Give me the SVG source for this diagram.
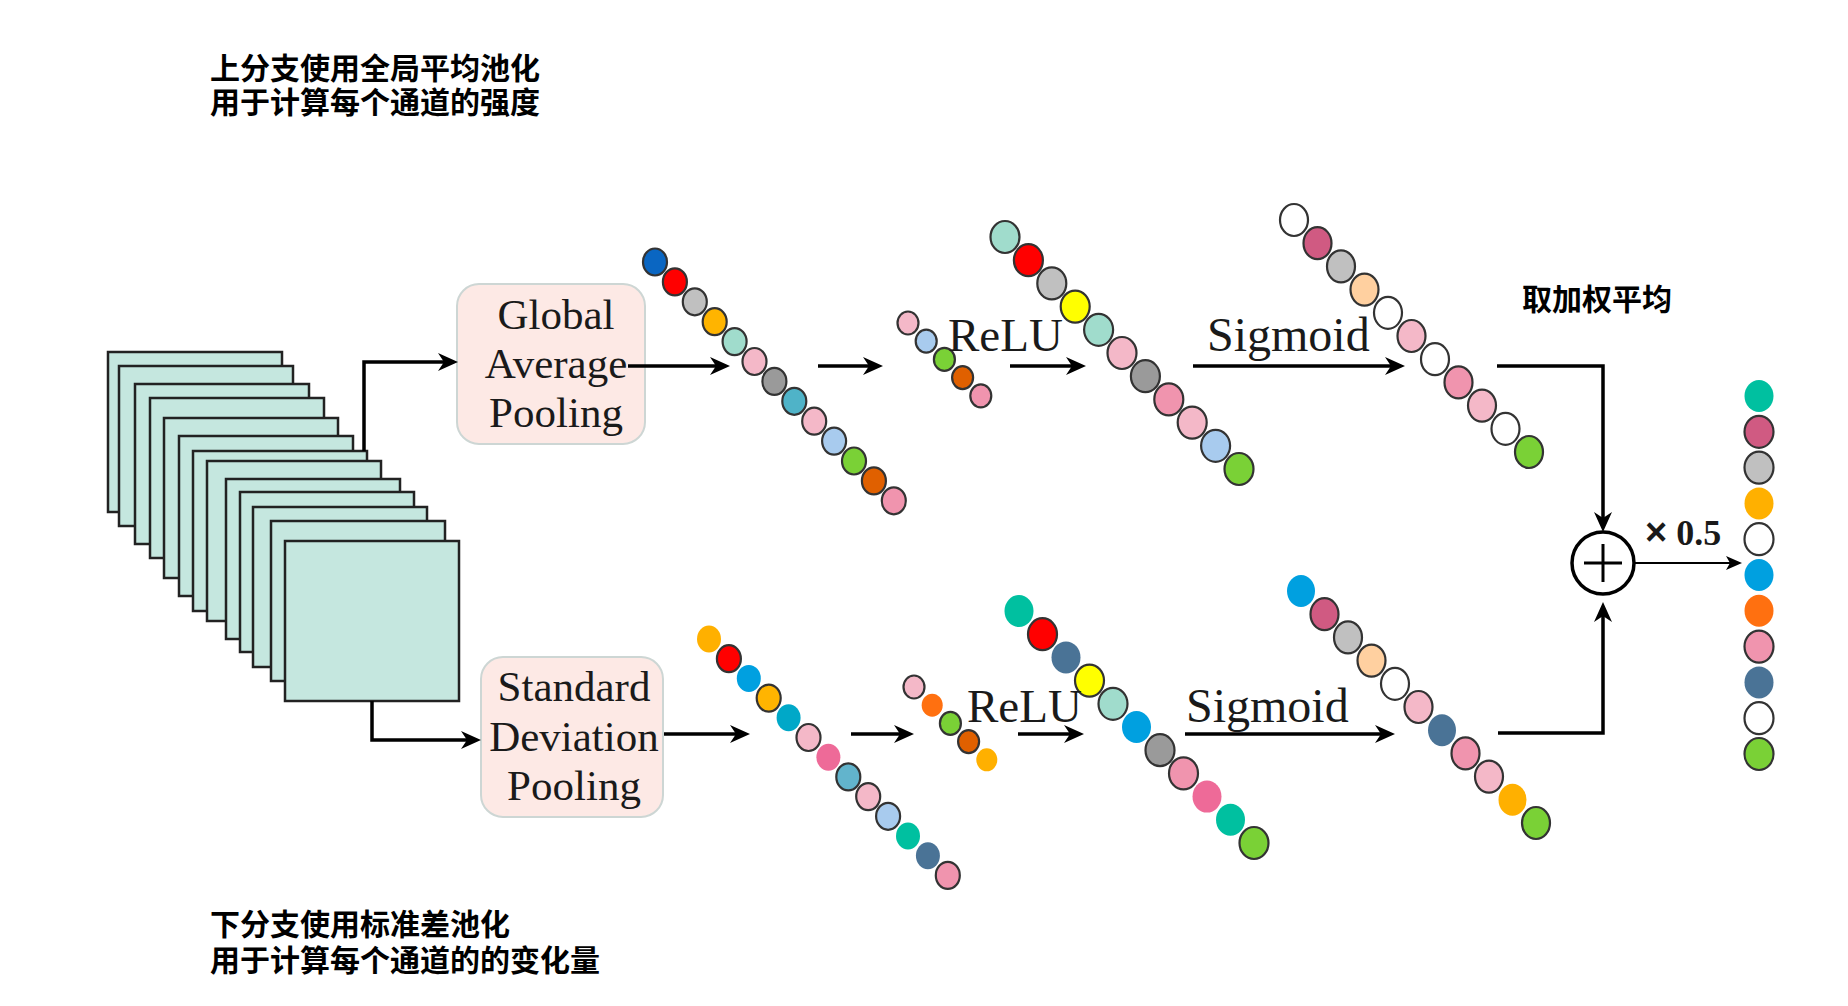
<svg xmlns="http://www.w3.org/2000/svg" width="1848" height="1006" viewBox="0 0 1848 1006">
<style>
.cs{stroke:#333;stroke-width:2.2}
.ns{stroke:none}
.ln{fill:none;stroke:#000;stroke-width:3.5}
.thin{fill:none;stroke:#000;stroke-width:1.8}
.stack rect{fill:#c5e7df;stroke:#222;stroke-width:2.5}
.box{fill:#fde9e5;stroke:#cdd6d4;stroke-width:2}
.lbl{font-family:"Liberation Serif","Times New Roman",serif;font-size:43px;fill:#1a1a1a;text-anchor:middle}
.op{font-family:"Liberation Serif","Times New Roman",serif;fill:#1a1a1a}
.cn{font-family:"Noto Sans CJK SC","Noto Sans",sans-serif;font-weight:700;font-size:30px;fill:#000}
</style>
<defs>
<marker id="ah" viewBox="0 0 20 20" markerWidth="20" markerHeight="20" markerUnits="userSpaceOnUse" refX="10" refY="10" orient="auto">
<path d="M0,1 L20,10 L0,19 L6,10 z" fill="#000"/>
</marker>
<marker id="ah2" viewBox="0 0 16 16" markerWidth="16" markerHeight="16" markerUnits="userSpaceOnUse" refX="8" refY="8" orient="auto">
<path d="M0,1 L16,8 L0,15 L4,8 z" fill="#000"/>
</marker>
</defs>
<rect width="1848" height="1006" fill="#fff"/>

<g id="text-top">
<text class="cn" x="210" y="79">上分支使用全局平均池化<tspan x="210" dy="34">用于计算每个通道的强度</tspan></text>
</g>
<g id="text-bottom">
<text class="cn" x="210" y="935">下分支使用标准差池化<tspan x="210" dy="36">用于计算每个通道的的变化量</tspan></text>
</g>
<g id="text-weighted">
<text class="cn" x="1522" y="310">取加权平均</text>
</g>

<g id="feature-maps" class="stack">
<rect x="108" y="352" width="174" height="160"/>
<rect x="119" y="366" width="174" height="160"/>
<rect x="135" y="384" width="174" height="160"/>
<rect x="150" y="398" width="174" height="160"/>
<rect x="164" y="418" width="174" height="160"/>
<rect x="179" y="436" width="174" height="160"/>
<rect x="193" y="451" width="174" height="160"/>
<rect x="207" y="461" width="174" height="160"/>
<rect x="226" y="479" width="174" height="160"/>
<rect x="240" y="492" width="174" height="160"/>
<rect x="253" y="507" width="174" height="160"/>
<rect x="271" y="521" width="174" height="160"/>
<rect x="285" y="541" width="174" height="160"/>
</g>

<g id="gap-node">
<rect class="box" x="457" y="284" width="188" height="160" rx="22"/>
<text class="lbl" x="556" y="329">Global</text>
<text class="lbl" x="556" y="378">Average</text>
<text class="lbl" x="556" y="427">Pooling</text>
</g>
<g id="sdp-node">
<rect class="box" x="481" y="657" width="182" height="160" rx="22"/>
<text class="lbl" x="574" y="701">Standard</text>
<text class="lbl" x="574" y="751">Deviation</text>
<text class="lbl" x="574" y="800">Pooling</text>
</g>

<g id="connectors">
<path class="ln" d="M364,451 V362 H448" marker-end="url(#ah)"/>
<path class="ln" d="M372,701 V740 H471" marker-end="url(#ah)"/>
<path class="ln" d="M628,366 H720" marker-end="url(#ah)"/>
<path class="ln" d="M818,366 H873" marker-end="url(#ah)"/>
<path class="ln" d="M1010,366 H1076" marker-end="url(#ah)"/>
<path class="ln" d="M1193,366 H1395" marker-end="url(#ah)"/>
<path class="ln" d="M664,734 H740" marker-end="url(#ah)"/>
<path class="ln" d="M851,734 H904" marker-end="url(#ah)"/>
<path class="ln" d="M1018,734 H1074" marker-end="url(#ah)"/>
<path class="ln" d="M1185,734 H1385" marker-end="url(#ah)"/>
<path class="ln" d="M1497,366 H1603 V522" marker-end="url(#ah)"/>
<path class="ln" d="M1498,733 H1603 V612" marker-end="url(#ah)"/>
<path class="thin" d="M1634,563 H1734" marker-end="url(#ah2)"/>
</g>

<g id="top-vec1">
<ellipse cx="655" cy="262" rx="12" ry="13.5" fill="#0a66c2" class="cs"/>
<ellipse cx="674.9" cy="281.9" rx="12" ry="13.5" fill="#ff0000" class="cs"/>
<ellipse cx="694.8" cy="301.8" rx="12" ry="13.5" fill="#c0c0c0" class="cs"/>
<ellipse cx="714.7" cy="321.7" rx="12" ry="13.5" fill="#ffb400" class="cs"/>
<ellipse cx="734.6" cy="341.6" rx="12" ry="13.5" fill="#a0dccc" class="cs"/>
<ellipse cx="754.5" cy="361.5" rx="12" ry="13.5" fill="#f4b8c8" class="cs"/>
<ellipse cx="774.4" cy="381.4" rx="12" ry="13.5" fill="#9a9a9a" class="cs"/>
<ellipse cx="794.3" cy="401.3" rx="12" ry="13.5" fill="#4fb3c8" class="cs"/>
<ellipse cx="814.2" cy="421.2" rx="12" ry="13.5" fill="#f4b8c8" class="cs"/>
<ellipse cx="834.1" cy="441.1" rx="12" ry="13.5" fill="#a8cbee" class="cs"/>
<ellipse cx="854" cy="461" rx="12" ry="13.5" fill="#7ad136" class="cs"/>
<ellipse cx="873.9" cy="480.9" rx="12" ry="13.5" fill="#e06000" class="cs"/>
<ellipse cx="893.8" cy="500.8" rx="12" ry="13.5" fill="#f094ae" class="cs"/>
</g>
<g id="top-vec-small">
<ellipse cx="908" cy="323" rx="10.5" ry="11.5" fill="#f4b8c8" class="cs"/>
<ellipse cx="926.2" cy="341.2" rx="10.5" ry="11.5" fill="#a8cbee" class="cs"/>
<ellipse cx="944.4" cy="359.4" rx="10.5" ry="11.5" fill="#7ad136" class="cs"/>
<ellipse cx="962.6" cy="377.6" rx="10.5" ry="11.5" fill="#e06000" class="cs"/>
<ellipse cx="980.8" cy="395.8" rx="10.5" ry="11.5" fill="#f094ae" class="cs"/>
</g>
<g id="top-vec2">
<ellipse cx="1005" cy="237" rx="14.5" ry="16" fill="#a0dccc" class="cs"/>
<ellipse cx="1028.4" cy="260.2" rx="14.5" ry="16" fill="#ff0000" class="cs"/>
<ellipse cx="1051.8" cy="283.4" rx="14.5" ry="16" fill="#c0c0c0" class="cs"/>
<ellipse cx="1075.2" cy="306.6" rx="14.5" ry="16" fill="#ffff00" class="cs"/>
<ellipse cx="1098.6" cy="329.8" rx="14.5" ry="16" fill="#a0dccc" class="cs"/>
<ellipse cx="1122" cy="353" rx="14.5" ry="16" fill="#f4b8c8" class="cs"/>
<ellipse cx="1145.4" cy="376.2" rx="14.5" ry="16" fill="#9a9a9a" class="cs"/>
<ellipse cx="1168.8" cy="399.4" rx="14.5" ry="16" fill="#f094ae" class="cs"/>
<ellipse cx="1192.2" cy="422.6" rx="14.5" ry="16" fill="#f4b8c8" class="cs"/>
<ellipse cx="1215.6" cy="445.8" rx="14.5" ry="16" fill="#a8cbee" class="cs"/>
<ellipse cx="1239" cy="469" rx="14.5" ry="16" fill="#7ad136" class="cs"/>
</g>
<g id="top-vec3">
<ellipse cx="1294" cy="220" rx="14" ry="16" fill="#ffffff" class="cs"/>
<ellipse cx="1317.5" cy="243.2" rx="14" ry="16" fill="#d05a82" class="cs"/>
<ellipse cx="1341" cy="266.4" rx="14" ry="16" fill="#c0c0c0" class="cs"/>
<ellipse cx="1364.5" cy="289.6" rx="14" ry="16" fill="#ffd0a0" class="cs"/>
<ellipse cx="1388" cy="312.8" rx="14" ry="16" fill="#ffffff" class="cs"/>
<ellipse cx="1411.5" cy="336" rx="14" ry="16" fill="#f4b8c8" class="cs"/>
<ellipse cx="1435" cy="359.2" rx="14" ry="16" fill="#ffffff" class="cs"/>
<ellipse cx="1458.5" cy="382.4" rx="14" ry="16" fill="#f094ae" class="cs"/>
<ellipse cx="1482" cy="405.6" rx="14" ry="16" fill="#f4b8c8" class="cs"/>
<ellipse cx="1505.5" cy="428.8" rx="14" ry="16" fill="#ffffff" class="cs"/>
<ellipse cx="1529" cy="452" rx="14" ry="16" fill="#7ad136" class="cs"/>
</g>

<g id="bot-vec1">
<ellipse cx="709" cy="639" rx="12" ry="13.5" fill="#ffb000" class="ns"/>
<ellipse cx="728.9" cy="658.7" rx="12" ry="13.5" fill="#ff0000" class="cs"/>
<ellipse cx="748.8" cy="678.4" rx="12" ry="13.5" fill="#00a0e0" class="ns"/>
<ellipse cx="768.7" cy="698.1" rx="12" ry="13.5" fill="#ffb400" class="cs"/>
<ellipse cx="788.6" cy="717.8" rx="12" ry="13.5" fill="#00a8c8" class="ns"/>
<ellipse cx="808.5" cy="737.5" rx="12" ry="13.5" fill="#f4b8c8" class="cs"/>
<ellipse cx="828.4" cy="757.2" rx="12" ry="13.5" fill="#ee6a98" class="ns"/>
<ellipse cx="848.3" cy="776.9" rx="12" ry="13.5" fill="#62b4cc" class="cs"/>
<ellipse cx="868.2" cy="796.6" rx="12" ry="13.5" fill="#f4b8c8" class="cs"/>
<ellipse cx="888.1" cy="816.3" rx="12" ry="13.5" fill="#a8cbee" class="cs"/>
<ellipse cx="908" cy="836" rx="12" ry="13.5" fill="#00c0a0" class="ns"/>
<ellipse cx="927.9" cy="855.7" rx="12" ry="13.5" fill="#4a7396" class="ns"/>
<ellipse cx="947.8" cy="875.4" rx="12" ry="13.5" fill="#f094ae" class="cs"/>
</g>
<g id="bot-vec-small">
<ellipse cx="914" cy="687" rx="10.5" ry="11.5" fill="#f4b8c8" class="cs"/>
<ellipse cx="932.2" cy="705.2" rx="10.5" ry="11.5" fill="#ff7010" class="ns"/>
<ellipse cx="950.4" cy="723.4" rx="10.5" ry="11.5" fill="#7ad136" class="cs"/>
<ellipse cx="968.6" cy="741.6" rx="10.5" ry="11.5" fill="#e06000" class="cs"/>
<ellipse cx="986.8" cy="759.8" rx="10.5" ry="11.5" fill="#ffb000" class="ns"/>
</g>
<g id="bot-vec2">
<ellipse cx="1019" cy="611" rx="14.5" ry="16" fill="#00c0a0" class="ns"/>
<ellipse cx="1042.5" cy="634.2" rx="14.5" ry="16" fill="#ff0000" class="cs"/>
<ellipse cx="1066" cy="657.4" rx="14.5" ry="16" fill="#4a7396" class="ns"/>
<ellipse cx="1089.5" cy="680.6" rx="14.5" ry="16" fill="#ffff00" class="cs"/>
<ellipse cx="1113" cy="703.8" rx="14.5" ry="16" fill="#a0dccc" class="cs"/>
<ellipse cx="1136.5" cy="727" rx="14.5" ry="16" fill="#00a0e0" class="ns"/>
<ellipse cx="1160" cy="750.2" rx="14.5" ry="16" fill="#9a9a9a" class="cs"/>
<ellipse cx="1183.5" cy="773.4" rx="14.5" ry="16" fill="#f094ae" class="cs"/>
<ellipse cx="1207" cy="796.6" rx="14.5" ry="16" fill="#ee6a98" class="ns"/>
<ellipse cx="1230.5" cy="819.8" rx="14.5" ry="16" fill="#00c0a0" class="ns"/>
<ellipse cx="1254" cy="843" rx="14.5" ry="16" fill="#7ad136" class="cs"/>
</g>
<g id="bot-vec3">
<ellipse cx="1301" cy="591" rx="14" ry="16" fill="#00a0e0" class="ns"/>
<ellipse cx="1324.5" cy="614.2" rx="14" ry="16" fill="#d05a82" class="cs"/>
<ellipse cx="1348" cy="637.4" rx="14" ry="16" fill="#c0c0c0" class="cs"/>
<ellipse cx="1371.5" cy="660.6" rx="14" ry="16" fill="#ffd0a0" class="cs"/>
<ellipse cx="1395" cy="683.8" rx="14" ry="16" fill="#ffffff" class="cs"/>
<ellipse cx="1418.5" cy="707" rx="14" ry="16" fill="#f4b8c8" class="cs"/>
<ellipse cx="1442" cy="730.2" rx="14" ry="16" fill="#4a7396" class="ns"/>
<ellipse cx="1465.5" cy="753.4" rx="14" ry="16" fill="#f094ae" class="cs"/>
<ellipse cx="1489" cy="776.6" rx="14" ry="16" fill="#f4b8c8" class="cs"/>
<ellipse cx="1512.5" cy="799.8" rx="14" ry="16" fill="#ffb000" class="ns"/>
<ellipse cx="1536" cy="823" rx="14" ry="16" fill="#7ad136" class="cs"/>
</g>

<g id="output-vec">
<ellipse cx="1759" cy="396" rx="14.5" ry="16" fill="#00c0a0" class="ns"/>
<ellipse cx="1759" cy="431.8" rx="14.5" ry="16" fill="#d05a82" class="cs"/>
<ellipse cx="1759" cy="467.6" rx="14.5" ry="16" fill="#c0c0c0" class="cs"/>
<ellipse cx="1759" cy="503.4" rx="14.5" ry="16" fill="#ffb000" class="ns"/>
<ellipse cx="1759" cy="539.2" rx="14.5" ry="16" fill="#ffffff" class="cs"/>
<ellipse cx="1759" cy="575" rx="14.5" ry="16" fill="#00a0e0" class="ns"/>
<ellipse cx="1759" cy="610.8" rx="14.5" ry="16" fill="#ff7010" class="ns"/>
<ellipse cx="1759" cy="646.6" rx="14.5" ry="16" fill="#f094ae" class="cs"/>
<ellipse cx="1759" cy="682.4" rx="14.5" ry="16" fill="#4a7396" class="ns"/>
<ellipse cx="1759" cy="718.2" rx="14.5" ry="16" fill="#ffffff" class="cs"/>
<ellipse cx="1759" cy="754" rx="14.5" ry="16" fill="#7ad136" class="cs"/>
</g>

<g id="labels">
<text class="op" x="948" y="351" font-size="47">ReLU</text>
<text class="op" x="1207" y="351" font-size="48">Sigmoid</text>
<text class="op" x="967" y="722" font-size="47">ReLU</text>
<text class="op" x="1186" y="722" font-size="48">Sigmoid</text>
<text class="op" x="1645" y="545" font-size="36" font-weight="700"><tspan font-family="Liberation Sans, Arial, sans-serif" font-size="38">×</tspan> 0.5</text>
</g>

<g id="sum-node">
<circle cx="1603" cy="563" r="31" fill="#fff" stroke="#000" stroke-width="3.5"/>
<path d="M1584,563 H1622 M1603,544 V582" stroke="#000" stroke-width="3"/>
</g>
</svg>
